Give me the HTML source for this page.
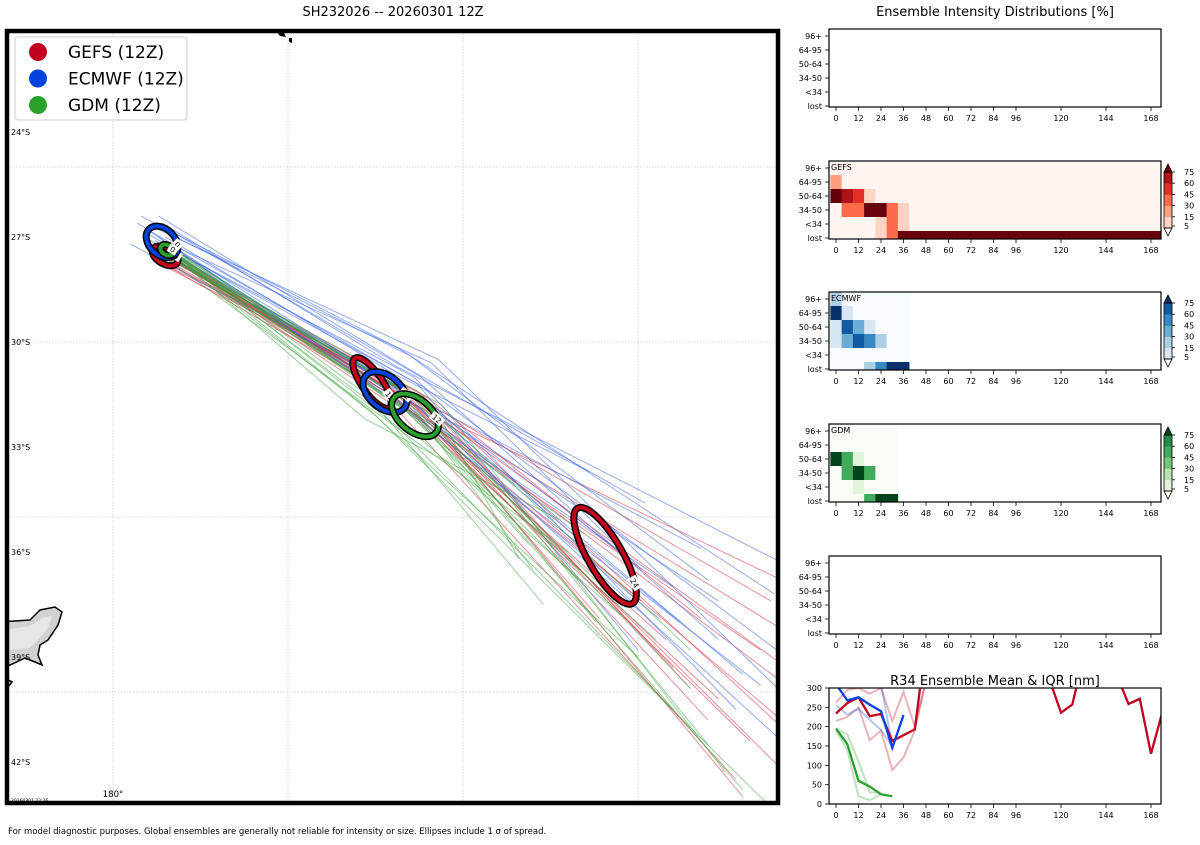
<!DOCTYPE html>
<html><head><meta charset="utf-8">
<style>
body{margin:0;background:#fff;width:1200px;height:840px;overflow:hidden;font-family:"Liberation Sans","DejaVu Sans",sans-serif;}
svg text{font-family:"DejaVu Sans","Liberation Sans",sans-serif;}
</style></head>
<body>
<svg id="root" width="1200" height="840" viewBox="0 0 1200 840" xmlns="http://www.w3.org/2000/svg">
<defs>
<clipPath id="mapclip"><rect x="7" y="31" width="771" height="772"/></clipPath>
<clipPath id="r34clip"><rect x="829" y="688" width="332" height="116"/></clipPath>
</defs>
<text x="393" y="16" font-size="13" text-anchor="middle">SH232026 -- 20260301 12Z</text>
<text x="995" y="16" font-size="13" text-anchor="middle">Ensemble Intensity Distributions [%]</text>
<text x="995" y="685" font-size="13" text-anchor="middle">R34 Ensemble Mean &amp; IQR [nm]</text>
<text x="8" y="834" font-size="8.5">For model diagnostic purposes. Global ensembles are generally not reliable for intensity or size. Ellipses include 1 σ of spread.</text>
<g id="map"></g>
<g id="panels"></g>
<g id="r34"></g>
</svg>
<script>
// ---------- MAP DATA ----------
const gefsStartLon=[181.5,181.6,181.4,181.5,181.7,181.3,181.5,181.6,181.4,181.5,181.6,181.5,181.3,181.7,181.5,181.4,181.6,181.5,181.4,181.6];
const gefsStartLat=[27.5,27.6,27.4,27.7,27.5,27.6,27.3,27.5,27.8,27.6,27.4,27.5,27.7,27.6,27.5,27.4,27.6,27.8,27.5,27.7];
const gefsMidLon=[188.0,188.3,187.8,188.6,188.1,188.9,187.5,188.4,188.2,189.0,187.9,188.5,188.7,188.0,188.3,187.6,188.8,188.1,188.4,188.6];
const gefsMidLat=[31.4,31.6,31.2,31.8,31.5,31.7,31.1,31.9,31.3,31.6,31.5,31.7,31.4,31.8,31.2,31.3,31.9,31.6,31.5,31.7];
const gefsEndLon=[199.1,199.1,199.1,199.1,198.2,196.5,197.3,198.5,198.8,196.8,195.1,193.9,199.1,197.8,196.0,199.1,198.0,195.8,199.1,197.0];
const gefsEndLat=[38.2,39.7,40.8,42.2,41.4,39.9,40.2,38.8,37.4,37.9,37.4,37.9,41.0,42.5,39.3,36.8,43.0,38.5,39.2,40.8];

const ecStartLon=[180.8,181.3,180.5,181.6,181.0,181.4,180.7,181.2,181.5,181.1,181.3,181.6,180.9,181.4,181.2,181.5,181.0,181.3,181.6,181.4];
const ecStartLat=[26.4,26.4,27.2,26.8,26.9,27.1,26.6,27.3,27.0,26.7,27.4,27.2,27.0,26.6,27.1,27.3,26.8,27.0,26.9,27.2];
const ecMidLon=[188.2,188.5,187.9,188.8,188.3,189.1,187.7,188.6,188.0,189.3,188.4,187.8,188.9,188.1,188.6,187.9,188.7,188.2,188.5,188.9];
const ecMidLat=[30.2,30.8,31.2,31.0,31.5,30.6,31.3,31.6,30.9,30.5,31.4,31.1,31.7,30.7,31.0,31.5,31.2,31.8,30.4,31.3];
const ecEndLon=[198.9,195.2,196.8,197.3,199.1,195.1,195.6,197.3,193.6,199.1,198.0,196.2,194.5,199.1,197.8,196.0,195.0,198.5,197.0,199.1];
const ecEndLat=[37.2,34.6,35.9,38.5,41.4,36.5,37.9,37.4,33.7,40.0,39.5,38.0,36.0,36.3,40.5,37.0,38.8,39.8,36.8,38.9];

const gdmStartLon=[181.6,181.7,181.5,181.6,181.8,181.5,181.6,181.7,181.5,181.6,181.7,181.6,181.5,181.8,181.6,181.5,181.7,181.6,181.5,181.7];
const gdmStartLat=[27.4,27.5,27.3,27.6,27.4,27.5,27.4,27.3,27.6,27.5,27.4,27.5,27.3,27.5,27.6,27.4,27.5,27.3,27.5,27.4];
const gdmMidLon=[187.6,188.6,187.4,189.2,188.4,188.9,187.2,188.5,187.9,189.4,188.3,188.8,187.8,189.0,188.4,187.5,188.7,188.1,188.5,189.3];
const gdmMidLat=[31.9,31.6,32.0,31.9,32.0,31.7,32.2,31.8,32.3,31.8,31.9,32.2,31.9,32.3,31.7,32.1,32.2,32.4,31.5,32.0];
const gdmEndLon=[192.3,196.5,198.6,191.6,193.3,196.5,192.8,194.0,193.0,197.5,195.5,192.0,194.5,193.5,198.0,195.0,191.9,196.0,193.8,197.0];
const gdmEndLat=[37.5,39.9,43.1,36.2,36.8,38.8,35.1,37.0,36.0,42.3,38.5,36.5,37.8,35.5,42.8,39.0,35.8,40.5,38.0,41.5];

// ellipses: model, hour, centre lon/lat, semi axes (deg), rotation
const ellModel=['gefs','ecmwf','gdm','gefs','ecmwf','gdm','gefs'];
const ellHour=['0','0','0','12','12','12','24'];
const ellLon=[181.49,181.40,181.54,187.40,187.77,188.63,194.06];
const ellLat=[27.54,27.14,27.37,31.17,31.43,32.09,36.11];
const ellA=[0.40,0.52,0.20,0.86,0.72,0.78,1.57];
const ellB=[0.23,0.37,0.14,0.29,0.46,0.46,0.49];
const ellRot=[30,45,30,55,40,40,60];

const modelColor={gefs:'#c0001c',ecmwf:'#0044dd',gdm:'#2ca02c'};
const lineColor={gefs:'#d9334a',ecmwf:'#3a66e6',gdm:'#36a336'};

const NS='http://www.w3.org/2000/svg';
function mk(tag,attrs,parent){const e=document.createElementNS(NS,tag);for(const k in attrs)e.setAttribute(k,attrs[k]);if(parent)parent.appendChild(e);return e;}
const xLon=lon=>113+(lon-180)*35;
const yLat=lat=>342+(lat-30)*35;

const map=document.getElementById('map');
const mapInner=mk('g',{'clip-path':'url(#mapclip)'},map);
[180,185,190,195].forEach(l=>{const g=mk('line',{x1:xLon(l),x2:xLon(l),y1:31,y2:803,stroke:'#c8c8c8','stroke-width':0.8,'stroke-dasharray':'1.5,1.5'},mapInner);

});
[25,30,35,40].forEach(l=>{const g=mk('line',{x1:7,x2:778,y1:yLat(l),y2:yLat(l),stroke:'#c8c8c8','stroke-width':0.8,'stroke-dasharray':'1.5,1.5'},mapInner);

});
const land=mk('path',{d:'M0,622 L30,620 L40,610 L55,607 L62,612 L58,625 L48,640 L40,645 L38,655 L42,665 L35,662 L25,658 L10,665 L0,668 Z',fill:'#d2d2d2',stroke:'#000','stroke-width':1.5},mapInner);


mk('path',{d:'M5,630 L30,626 L42,618 L52,616 L48,628 L38,640 L30,648 L5,650 Z',fill:'#e6e6e6'},mapInner);
mk('path',{d:'M0,675 L12,682 L4,692 L0,695 Z',fill:'#d2d2d2',stroke:'#000','stroke-width':1.5},mapInner);
mk('path',{d:'M276,31 L284,33 L286,37 L280,36 Z M289,38 L292,38 L292,43 L289,42 Z',fill:'#000'},mapInner);
[24,27,30,33,36,39,42].forEach(l=>{const t=mk('text',{x:11,y:yLat(l)+3,'font-size':8},mapInner);t.textContent=l+'°S';

});
const lonLab=mk('text',{x:xLon(180),y:797,'font-size':8.5,'text-anchor':'middle'},map);lonLab.textContent='180°';


const ts=mk('text',{x:11,y:802,'font-size':4.5},map);ts.textContent='20260301 22:26';


function drawTracks(model,sLon,sLat,mLon,mLat,eLon,eLat,w,op){
  for(let i=0;i<sLon.length;i++){
    const pts=[[sLon[i],sLat[i]],[mLon[i],mLat[i]],[eLon[i],eLat[i]]].map(p=>xLon(p[0]).toFixed(1)+','+yLat(p[1]).toFixed(1)).join(' ');
    const pl=mk('polyline',{points:pts,fill:'none',stroke:lineColor[model],'stroke-width':w,'stroke-opacity':op},mapInner);
    
    
  }
}
drawTracks('gefs',gefsStartLon,gefsStartLat,gefsMidLon,gefsMidLat,gefsEndLon,gefsEndLat,0.9,0.6);
drawTracks('ecmwf',ecStartLon,ecStartLat,ecMidLon,ecMidLat,ecEndLon,ecEndLat,0.9,0.6);
drawTracks('gdm',gdmStartLon,gdmStartLat,gdmMidLon,gdmMidLat,gdmEndLon,gdmEndLat,0.9,0.55);
for(let i=0;i<ellModel.length;i++){
  const cx=xLon(ellLon[i]),cy=yLat(ellLat[i]),rx=ellA[i]*35,ry=ellB[i]*35;
  const g=mk('g',{transform:`rotate(${ellRot[i]} ${cx} ${cy})`},mapInner);
  
  
  mk('ellipse',{cx,cy,rx,ry,fill:'none',stroke:'#000','stroke-width':7},g);
  mk('ellipse',{cx,cy,rx,ry,fill:'none',stroke:modelColor[ellModel[i]],'stroke-width':4},g);
  const lx=cx+rx*0.7,ly=cy-ry*0.71;
  const w=5+ellHour[i].length*4.5;
  mk('rect',{x:lx-w/2,y:ly-4.5,width:w,height:9,fill:'#fff'},g);
  const t=mk('text',{x:lx,y:ly+3,'font-size':7.5,'text-anchor':'middle'},g);t.textContent=ellHour[i];
}
const fr=mk('rect',{x:7,y:31,width:771,height:772,fill:'none',stroke:'#000','stroke-width':4.5},map);


const leg=mk('g',{},map);


mk('rect',{x:15,y:37,width:172,height:83,rx:3,fill:'#fff',stroke:'#ccc','stroke-width':1},leg);
const legLabels=['GEFS (12Z)','ECMWF (12Z)','GDM (12Z)'];const legKeys=['gefs','ecmwf','gdm'];
legLabels.forEach((lab,i)=>{const y=52+i*26.5;
  const e=mk('g',{},leg);
  
  
  mk('circle',{cx:38,cy:y,r:9,fill:modelColor[legKeys[i]]},e);
  const t=mk('text',{x:68,y:y+6,'font-size':17},e);t.textContent=lab;});

// ---------- HEATMAP DATA ----------
const rowLabels=['96+','64-95','50-64','34-50','<34','lost'];
const hourTicks=[0,12,24,36,48,60,72,84,96,120,144,168];
const gefs96=[1,1,1,1,1,1,1,1,1,1,1,1,1,1,1,1,1,1,1,1,1,1,1,1,1,1,1,1,1,1];
const gefs64=[25,1,1,1,1,1,1,1,1,1,1,1,1,1,1,1,1,1,1,1,1,1,1,1,1,1,1,1,1,1];
const gefs50=[80,65,50,10,1,1,1,1,1,1,1,1,1,1,1,1,1,1,1,1,1,1,1,1,1,1,1,1,1,1];
const gefs34=[1,35,35,80,80,35,10,1,1,1,1,1,1,1,1,1,1,1,1,1,1,1,1,1,1,1,1,1,1,1];
const gefsLt34=[1,1,1,1,10,35,10,1,1,1,1,1,1,1,1,1,1,1,1,1,1,1,1,1,1,1,1,1,1,1];
const gefsLost=[1,1,1,1,10,35,80,100,100,100,100,100,100,100,100,100,100,100,100,100,100,100,100,100,100,100,100,100,100,100];
const ec96=[20,1,1,1,1,1,1];
const ec64=[80,10,1,1,1,1,1];
const ec50=[10,65,35,10,1,1,1];
const ec34=[10,35,65,50,20,1,1];
const ecLt34=[1,1,1,1,1,1,1];
const ecLost=[1,1,1,20,50,80,80];
const gdm96=[1,1,1,1,1,1];
const gdm64=[1,1,1,1,1,1];
const gdm50=[80,50,10,1,1,1];
const gdm34=[1,50,80,50,1,1];
const gdmLt34=[1,1,10,1,1,1];
const gdmLost=[1,1,1,50,80,80];
const levels=[5,15,30,45,60,75];
const reds=['#fff5f0','#fdd4c2','#fc9f81','#fb6a4a','#e32f27','#b11218','#67000d'];
const blues=['#f7fbff','#d6e6f4','#abd0e6','#6aaed6','#3787c0','#105ba4','#08306b'];
const greens=['#f7fcf5','#e0f3db','#b7e2b1','#78c679','#41ab5d','#238b45','#00441b'];

const panels=document.getElementById('panels');
const PX0=829,PX1=1161;
const xHour=h=>836+h*1.875;
const panelTops=[29,161,292,424,556];
function colorFor(v,pal){let k=0;for(let i=0;i<levels.length;i++)if(v>=levels[i])k=i+1;return pal[k];}
function drawPanel(top,name,rows,pal,label){
  const g=mk('g',{},panels);
  
  
  const H=78;
  if(rows){
    rows.forEach((row,r)=>{row.forEach((v,c)=>{
      const y0=top+r*14,y1=Math.min(top+H,y0+14);
      const x0=Math.max(PX0,xHour(c*6)-5.625),x1=Math.min(PX1,xHour(c*6)+5.625);
      const cell=mk('rect',{x:x0,y:y0,width:x1-x0+0.3,height:y1-y0+0.3,fill:colorFor(v,pal)},g);
      
      
    });});
    const t=mk('text',{x:831,y:top+9,'font-size':8},g);t.textContent=label;
    const cb=mk('g',{},g);
    
    
    const cbTop=top+11,cbBot=top+67,n=pal.length-1;const seg=(cbBot-cbTop)/(n-1);
    for(let i=1;i<n;i++){mk('rect',{x:1164,y:cbBot-i*seg,width:8,height:seg+0.3,fill:pal[i]},cb);}
    mk('path',{d:`M1164,${cbTop} L1168,${cbTop-8} L1172,${cbTop} Z`,fill:pal[n],stroke:'#000','stroke-width':0.8},cb);
    mk('path',{d:`M1164,${cbBot} L1168,${cbBot+8} L1172,${cbBot} Z`,fill:pal[0],stroke:'#000','stroke-width':0.8},cb);
    mk('rect',{x:1164,y:cbTop,width:8,height:cbBot-cbTop,fill:'none',stroke:'#000','stroke-width':0.8},cb);
    [5,15,30,45,60,75].forEach((v,i)=>{const yy=i==0?cbBot-2:cbBot-(i)*seg;
      mk('line',{x1:1172,x2:1175,y1:yy,y2:yy,stroke:'#000','stroke-width':0.8},cb);
      const tt=mk('text',{x:1184,y:yy+3,'font-size':8},cb);tt.textContent=v;});
  }
  mk('rect',{x:PX0,y:top,width:PX1-PX0,height:H,fill:'none',stroke:'#000','stroke-width':1.2},g);
  rowLabels.forEach((l,r)=>{const y=Math.min(top+7+r*14,top+H-1);
    mk('line',{x1:PX0-4,x2:PX0,y1:y,y2:y,stroke:'#000','stroke-width':0.8},g);
    const t=mk('text',{x:PX0-7,y:y+3,'font-size':8,'text-anchor':'end'},g);t.textContent=l;});
  hourTicks.forEach(h=>{const x=xHour(h);
    mk('line',{x1:x,x2:x,y1:top+H,y2:top+H+4,stroke:'#000','stroke-width':0.8},g);
    const t=mk('text',{x,y:top+H+14,'font-size':8,'text-anchor':'middle'},g);t.textContent=h;});
}
drawPanel(panelTops[0],'intensity-panel-empty-top',null,null,'');
drawPanel(panelTops[1],'gefs-intensity-heatmap',[gefs96,gefs64,gefs50,gefs34,gefsLt34,gefsLost],reds,'GEFS');
drawPanel(panelTops[2],'ecmwf-intensity-heatmap',[ec96,ec64,ec50,ec34,ecLt34,ecLost],blues,'ECMWF');
drawPanel(panelTops[3],'gdm-intensity-heatmap',[gdm96,gdm64,gdm50,gdm34,gdmLt34,gdmLost],greens,'GDM');
drawPanel(panelTops[4],'intensity-panel-empty-bottom',null,null,'');

// ---------- R34 DATA ----------
const r34Hours=[0,6,12,18,24,30,36,42,48,54,60,66,72,78,84,90,96,102,108,114,120,126,132,138,144,150,156,162,168,174];
const gefsMean=[234,261,276,227,233,163,178,193,420,400,400,400,400,400,400,400,400,400,400,320,236,257,380,400,400,330,259,272,130,237];
const gefsQ3=[262,295,300,285,300,215,290,200,320];
const gefsQ1=[215,225,250,165,190,88,120,190,320];
const ecMean=[310,268,276,257,240,145,230];
const ecQ3=[330,340,320,320,310,150];
const ecQ1=[255,231,246,218,191,150];
const gdmMean=[195,155,60,45,25,20];
const gdmQ3=[195,180,110,30,30];
const gdmQ1=[190,140,20,10,25];
const r34Ticks=[0,50,100,150,200,250,300];

const r34=document.getElementById('r34');
const RT=688,RB=804;
const yR=v=>RB-v*(RB-RT)/300;
const plot=mk('g',{'clip-path':'url(#r34clip)'},r34);
function series(vals,color,w,op,name){
  const pts=vals.map((v,i)=>xHour(r34Hours[i]).toFixed(1)+','+yR(v).toFixed(1)).join(' ');
  const p=mk('polyline',{points:pts,fill:'none',stroke:color,'stroke-width':w,'stroke-opacity':op,'stroke-linejoin':'miter'},plot);
  
  
}
series(gefsQ3,'#c0001c',2,0.3,'gefs-r34-q3');
series(gefsQ1,'#c0001c',2,0.3,'gefs-r34-q1');
series(ecQ3,'#0044dd',2,0.3,'ecmwf-r34-q3');
series(ecQ1,'#0044dd',2,0.3,'ecmwf-r34-q1');
series(gdmQ3,'#2ca02c',2,0.3,'gdm-r34-q3');
series(gdmQ1,'#2ca02c',2,0.3,'gdm-r34-q1');
series(gefsMean,'#c0001c',2.3,1,'gefs-r34-mean');
series(ecMean,'#0044dd',2.3,1,'ecmwf-r34-mean');
series(gdmMean,'#2ca02c',2.3,1,'gdm-r34-mean');
mk('rect',{x:PX0,y:RT,width:PX1-PX0,height:RB-RT,fill:'none',stroke:'#000','stroke-width':1.2},r34);
r34Ticks.forEach(v=>{const y=yR(v);
  mk('line',{x1:PX0-4,x2:PX0,y1:y,y2:y,stroke:'#000','stroke-width':0.8},r34);
  const t=mk('text',{x:PX0-7,y:y+3,'font-size':8,'text-anchor':'end'},r34);t.textContent=v;});
hourTicks.forEach(h=>{const x=xHour(h);
  mk('line',{x1:x,x2:x,y1:RB,y2:RB+4,stroke:'#000','stroke-width':0.8},r34);
  const t=mk('text',{x,y:RB+14,'font-size':8,'text-anchor':'middle'},r34);t.textContent=h;});
</script>
</body></html>
